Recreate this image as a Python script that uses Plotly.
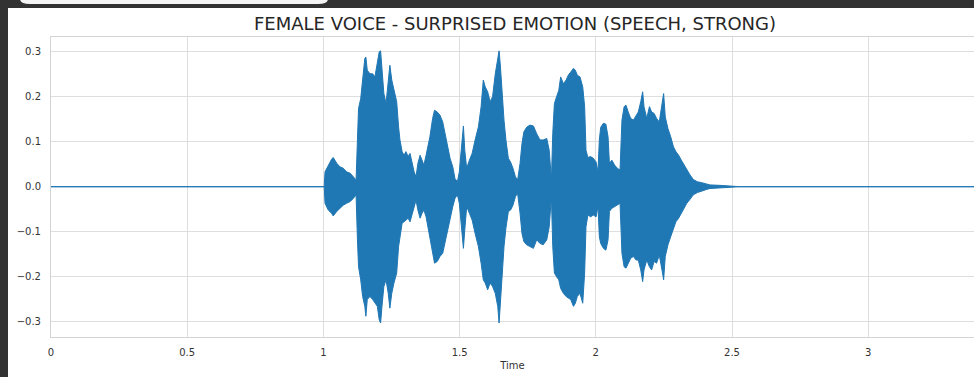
import plotly.graph_objects as go

# ---- data: waveform envelope (seconds, amplitude) ----
time_s = [
    0.0, 1.003,
    1.006, 1.018, 1.030, 1.036, 1.049, 1.061, 1.073, 1.085, 1.098, 1.110,
    1.120, 1.125, 1.129, 1.137, 1.144, 1.152, 1.156, 1.161, 1.171, 1.181,
    1.189, 1.198, 1.205, 1.210, 1.215, 1.222, 1.230, 1.238, 1.244, 1.251,
    1.259, 1.269, 1.276, 1.281, 1.289, 1.296, 1.303, 1.311, 1.318, 1.325,
    1.333, 1.340, 1.347, 1.355, 1.362, 1.369, 1.377, 1.384, 1.391, 1.401,
    1.408, 1.418, 1.428, 1.438, 1.446, 1.455, 1.465, 1.475, 1.483, 1.492,
    1.499, 1.506, 1.514, 1.519, 1.526, 1.536, 1.546, 1.557, 1.569, 1.579,
    1.587, 1.594, 1.603, 1.612, 1.621, 1.631, 1.640, 1.645, 1.650, 1.657,
    1.663, 1.670, 1.679, 1.687, 1.696, 1.705, 1.713, 1.722, 1.729, 1.736,
    1.746, 1.758, 1.771, 1.783, 1.795, 1.807, 1.820, 1.829, 1.837, 1.842,
    1.848, 1.856, 1.864, 1.871, 1.881, 1.891, 1.899, 1.908, 1.918, 1.925,
    1.932, 1.942, 1.952, 1.959, 1.964, 1.971, 1.981, 1.991, 2.001, 2.008,
    2.013, 2.018, 2.028, 2.037, 2.045, 2.050, 2.059, 2.069, 2.079, 2.089,
    2.096, 2.104, 2.111, 2.119, 2.128, 2.138, 2.148, 2.156, 2.165, 2.172,
    2.177, 2.187, 2.197, 2.205, 2.214, 2.223, 2.233, 2.243, 2.249, 2.255,
    2.265, 2.275, 2.285, 2.294, 2.304, 2.314, 2.324, 2.334, 2.346, 2.358,
    2.373, 2.389, 2.407, 2.419,
    2.456, 2.493, 2.529, 3.40,
]

env_upper = [
    0.0, 0.0,
    0.033, 0.048, 0.061, 0.065, 0.052, 0.044, 0.041, 0.033, 0.030, 0.022,
    0.015, 0.104, 0.174, 0.196, 0.244, 0.285, 0.288, 0.259, 0.251, 0.251,
    0.244, 0.281, 0.300, 0.302, 0.266, 0.207, 0.185, 0.237, 0.270, 0.237,
    0.214, 0.189, 0.133, 0.104, 0.078, 0.070, 0.078, 0.067, 0.074, 0.055,
    0.033, 0.022, 0.052, 0.070, 0.059, 0.048, 0.070, 0.089, 0.111, 0.152,
    0.170, 0.166, 0.159, 0.144, 0.118, 0.089, 0.063, 0.044, 0.018, 0.011,
    0.033, 0.081, 0.135, 0.081, 0.041, 0.059, 0.074, 0.104, 0.133, 0.178,
    0.237, 0.222, 0.211, 0.189, 0.200, 0.251, 0.288, 0.302, 0.266, 0.192,
    0.148, 0.104, 0.063, 0.055, 0.041, 0.022, 0.015, 0.052, 0.096, 0.122,
    0.132, 0.137, 0.135, 0.118, 0.104, 0.104, 0.107, 0.081, 0.015, 0.118,
    0.185, 0.200, 0.214, 0.244, 0.229, 0.237, 0.248, 0.255, 0.263, 0.259,
    0.248, 0.244, 0.222, 0.178, 0.081, 0.065, 0.067, 0.063, 0.055, 0.033,
    0.104, 0.132, 0.141, 0.139, 0.111, 0.052, 0.059, 0.048, 0.041, 0.037,
    0.148, 0.178, 0.181, 0.166, 0.152, 0.148, 0.159, 0.166, 0.189, 0.211,
    0.178, 0.152, 0.178, 0.166, 0.163, 0.152, 0.144, 0.178, 0.207, 0.155,
    0.129, 0.111, 0.089, 0.078, 0.070, 0.059, 0.048, 0.037, 0.026, 0.016,
    0.011, 0.009, 0.006, 0.004,
    0.003, 0.0015, 0.0, 0.0,
]

env_lower = [
    0.0, 0.0,
    -0.037, -0.052, -0.059, -0.065, -0.055, -0.048, -0.041, -0.037, -0.033, -0.026,
    -0.018, -0.118, -0.178, -0.207, -0.244, -0.266, -0.288, -0.251, -0.244, -0.251,
    -0.259, -0.266, -0.296, -0.303, -0.266, -0.222, -0.207, -0.237, -0.270, -0.237,
    -0.214, -0.192, -0.133, -0.111, -0.081, -0.078, -0.074, -0.070, -0.078, -0.063,
    -0.044, -0.030, -0.052, -0.070, -0.059, -0.052, -0.067, -0.089, -0.111, -0.148,
    -0.170, -0.166, -0.155, -0.148, -0.126, -0.100, -0.067, -0.044, -0.026, -0.018,
    -0.037, -0.089, -0.137, -0.096, -0.044, -0.059, -0.074, -0.104, -0.133, -0.170,
    -0.207, -0.214, -0.229, -0.214, -0.222, -0.237, -0.266, -0.303, -0.251, -0.192,
    -0.133, -0.092, -0.055, -0.052, -0.041, -0.022, -0.015, -0.059, -0.104, -0.122,
    -0.129, -0.133, -0.137, -0.118, -0.126, -0.129, -0.118, -0.089, -0.022, -0.133,
    -0.192, -0.200, -0.207, -0.226, -0.237, -0.244, -0.248, -0.251, -0.266, -0.259,
    -0.244, -0.237, -0.259, -0.192, -0.089, -0.063, -0.067, -0.063, -0.067, -0.044,
    -0.111, -0.126, -0.137, -0.141, -0.118, -0.055, -0.048, -0.044, -0.041, -0.037,
    -0.148, -0.178, -0.181, -0.170, -0.159, -0.155, -0.163, -0.163, -0.185, -0.211,
    -0.185, -0.163, -0.178, -0.185, -0.166, -0.170, -0.152, -0.185, -0.207, -0.155,
    -0.129, -0.111, -0.092, -0.078, -0.070, -0.059, -0.048, -0.037, -0.028, -0.018,
    -0.013, -0.009, -0.006, -0.004,
    -0.003, -0.0015, 0.0, 0.0,
]

assert len(time_s) == len(env_upper) == len(env_lower)

x_tick_vals = [0, 0.5, 1, 1.5, 2, 2.5, 3]
x_tick_text = ["0", "0.5", "1", "1.5", "2", "2.5", "3"]
y_tick_vals = [-0.3, -0.2, -0.1, 0.0, 0.1, 0.2, 0.3]
y_tick_text = ["\u22120.3", "\u22120.2", "\u22120.1", "0.0", "0.1", "0.2", "0.3"]

title_text = "FEMALE VOICE - SURPRISED EMOTION (SPEECH, STRONG)"
x_label = "Time"

# ---- figure ----
W, H = 974, 377
ML, MR, MT, MB = 51, 0, 37, 40
PW, PH = W - ML - MR, H - MT - MB

def px_x(p):
    return (p - ML) / PW

def px_y(p):
    return (H - MB - p) / PH

wave_color = "#1f77b4"
font_family = "DejaVu Sans, Arial, sans-serif"
text_color = "#333333"
frame_color = "#323232"

fig = go.Figure()
fig.add_trace(go.Scatter(
    x=time_s, y=env_upper, mode="lines",
    line=dict(color=wave_color, width=1), hoverinfo="skip", showlegend=False,
))
fig.add_trace(go.Scatter(
    x=time_s, y=env_lower, mode="lines", fill="tonexty",
    fillcolor=wave_color,
    line=dict(color=wave_color, width=1), hoverinfo="skip", showlegend=False,
))

grid = "#dedede"
spine = "#d4d4d4"

fig.update_xaxes(
    range=[0, (W - ML) / 272.4], tickvals=x_tick_vals, ticktext=x_tick_text,
    showgrid=True, gridcolor=grid, gridwidth=1, zeroline=False,
    showline=True, linecolor=spine, linewidth=1, mirror=True,
    ticks="", ticklabelstandoff=6,
    tickfont=dict(family=font_family, size=10, color=text_color),
    title=dict(text=x_label, font=dict(family=font_family, size=10, color=text_color), standoff=4),
)
fig.update_yaxes(
    range=[-0.3341, 0.3328], tickvals=y_tick_vals, ticktext=y_tick_text,
    showgrid=True, gridcolor=grid, gridwidth=1, zeroline=False,
    showline=True, linecolor=spine, linewidth=1, mirror=False,
    ticks="", ticklabelstandoff=7,
    tickfont=dict(family=font_family, size=10, color=text_color),
)

shapes = [
    # white sheet inside the dark frame
    dict(type="rect", xref="paper", yref="paper",
         x0=px_x(8), x1=px_x(W + 2), y0=px_y(H + 2), y1=px_y(8),
         fillcolor="white", line=dict(width=0), layer="below"),
    # light tab at the top-left
    dict(type="path", xref="paper", yref="paper",
         path=(f"M {px_x(20)},{px_y(-1)} Q {px_x(20)},{px_y(4)} {px_x(30)},{px_y(4)} "
               f"L {px_x(318)},{px_y(4)} Q {px_x(328)},{px_y(4)} {px_x(328)},{px_y(-1)} Z"),
         fillcolor="#f4f4f4", line=dict(width=0), layer="above"),
]

fig.update_layout(
    width=W, height=H,
    margin=dict(l=ML, r=MR, t=MT, b=MB, pad=0),
    paper_bgcolor=frame_color, plot_bgcolor="white",
    shapes=shapes,
    title=dict(text=title_text, x=515 / W, xanchor="center", xref="container",
               y=1 - 24 / H, yanchor="middle", yref="container",
               font=dict(family=font_family, size=18, color="#262626")),
    showlegend=False,
)

fig.write_html(
    "out.html",
    config={"displayModeBar": False},
    post_script="document.body.style.margin='0';document.body.style.overflow='hidden';",
)
